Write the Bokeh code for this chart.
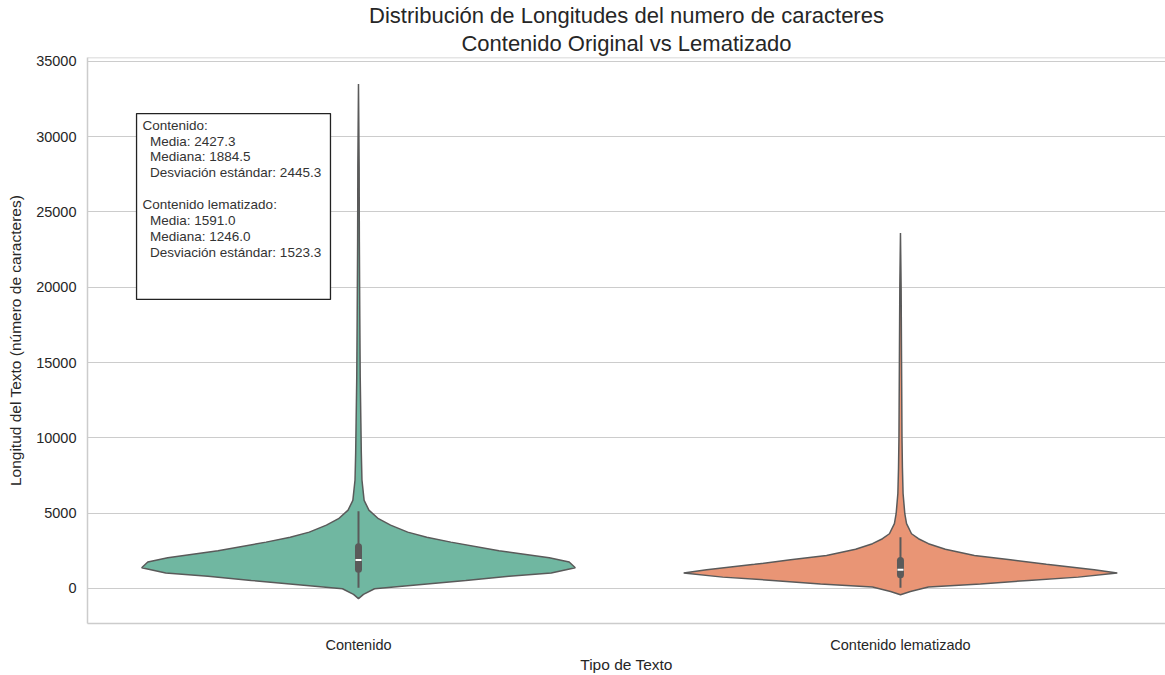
import numpy as np
from bokeh.plotting import figure
from bokeh.models import FixedTicker, Label, BoxAnnotation, Range1d, Title, Span
from bokeh.embed import file_html
from bokeh.resources import INLINE

# ---------------- data ----------------
categories = ["Contenido", "Contenido lematizado"]
fill_colors = ["#70b7a1", "#e99575"]

# violin profiles: value (characters) and relative density (1 = widest)
cont_vals = [-680, -400, -20, 250, 530, 800, 1020, 1370, 1750, 2040, 2500, 3075, 3400, 3740,
             4200, 4630, 5200, 5850, 7200, 9000, 11000, 14000, 18000, 23000, 28000, 33500]
cont_dens = [0.0, 0.023, 0.074, 0.278, 0.495, 0.694, 0.889, 1.0, 0.972, 0.880, 0.648, 0.426, 0.315, 0.227,
             0.148, 0.092, 0.048, 0.026, 0.016, 0.013, 0.011, 0.008, 0.006, 0.004, 0.003, 0.0]

lem_vals = [-420, -200, 90, 300, 530, 750, 1017, 1240, 1600, 1900, 2190, 2600, 2970, 3300,
            3630, 4300, 4960, 6300, 8000, 10000, 15000, 20000, 23600]
lem_dens = [0.0, 0.046, 0.129, 0.369, 0.590, 0.820, 1.0, 0.894, 0.673, 0.507, 0.341, 0.207, 0.129, 0.083,
            0.051, 0.028, 0.020, 0.012, 0.009, 0.007, 0.005, 0.003, 0.0]

# inner box: whisker low, Q1, median, Q3, whisker high
cont_box = [46, 1280, 1884.5, 2770, 5133]
lem_box = [45, 900, 1246.0, 1860, 3400]

# summary statistics shown in the text box
stat_means = [2427.3, 1591.0]
stat_medians = [1884.5, 1246.0]
stat_stds = [2445.3, 1523.3]

y_ticks = [0, 5000, 10000, 15000, 20000, 25000, 30000, 35000]
title_lines = ["Distribución de Longitudes del numero de caracteres", "Contenido Original vs Lematizado"]

# ---------------- figure ----------------
FONT = "Liberation Sans"
TXT = "#262626"
SPINE = "#cccccc"
y_start, y_end = -2330, 35260
x_start, x_end = -0.5, 1.489   # right edge of the axes is just past the window

p = figure(width=1165, height=675, output_backend="svg", toolbar_location=None,
           x_range=Range1d(x_start, x_end), y_range=Range1d(y_start, y_end),
           min_border_left=87, min_border_right=0, min_border_top=57, min_border_bottom=52)
p.title = None
# add second line first: it sits closest to the plot
p.add_layout(Title(text=title_lines[1], align="center", text_font=FONT, text_font_size="22px",
                   text_font_style="normal", text_color=TXT, standoff=3), "above")
p.add_layout(Title(text=title_lines[0], align="center", text_font=FONT, text_font_size="22px",
                   text_font_style="normal", text_color=TXT, standoff=0), "above")

p.background_fill_color = "white"
p.border_fill_color = "white"
p.outline_line_color = None

p.xgrid.visible = False
p.ygrid.grid_line_color = SPINE
p.ygrid.grid_line_width = 1.2
p.ygrid.ticker = FixedTicker(ticks=y_ticks)

for ax in (p.xaxis[0], p.yaxis[0]):
    ax.axis_line_color = SPINE
    ax.axis_line_width = 1.5
    ax.major_tick_line_color = None
    ax.minor_tick_line_color = None
    ax.major_tick_out = 0
    ax.major_tick_in = 0
    ax.minor_tick_out = 0
    ax.minor_tick_in = 0
    ax.major_label_text_font = FONT
    ax.major_label_text_font_size = "14.5px"
    ax.major_label_text_color = TXT
    ax.axis_label_text_font = FONT
    ax.axis_label_text_font_size = "15.5px"
    ax.axis_label_text_font_style = "normal"
    ax.axis_label_text_color = TXT

# top spine
p.add_layout(Span(location=y_end, dimension="width", line_color=SPINE, line_width=1.5))

p.xaxis.ticker = FixedTicker(ticks=list(range(len(categories))))
p.xaxis.major_label_overrides = {i: c for i, c in enumerate(categories)}
p.xaxis.axis_label = "Tipo de Texto"
p.xaxis.major_label_standoff = 13
p.xaxis.axis_label_standoff = 0

p.yaxis.ticker = FixedTicker(ticks=y_ticks)
p.yaxis.formatter.use_scientific = False
p.yaxis.axis_label = "Longitud del Texto (número de caracteres)"
p.yaxis.major_label_standoff = 11
p.yaxis.axis_label_standoff = 9

# ---------------- violins ----------------
half = 0.4
profiles = [(cont_vals, cont_dens), (lem_vals, lem_dens)]
boxes = [cont_box, lem_box]
for i, ((vals, dens), col) in enumerate(zip(profiles, fill_colors)):
    xs = [i + half * d for d in dens] + [i - half * d for d in reversed(dens)]
    ys = list(vals) + list(reversed(vals))
    p.patch(xs, ys, fill_color=col, line_color="#5a5a5a", line_width=1.5)

    lo, q1, med, q3, hi = boxes[i]
    p.segment(x0=[i], y0=[lo], x1=[i], y1=[hi], line_color="#5a5a5a", line_width=2)
    p.segment(x0=[i], y0=[q1], x1=[i], y1=[q3], line_color="#5a5a5a", line_width=7, line_cap="round")
    p.scatter(x=[i], y=[med], marker="dash", size=6, line_color="white", line_width=2)

# ---------------- stats text box ----------------
fx = lambda f: x_start + f * (x_end - x_start)
fy = lambda f: y_start + f * (y_end - y_start)
box_l, box_r, box_t, box_b = fx(0.0455), fx(0.2254), fy(0.901), fy(0.5725)
p.add_layout(BoxAnnotation(left=box_l, right=box_r, top=box_t, bottom=box_b,
                           fill_color="white", fill_alpha=1.0, line_color="#222222",
                           line_alpha=1.0, line_width=1.3))

ind = "\u00a0\u00a0"
lines = []
for i, c in enumerate(categories):
    if i > 0:
        lines.append("")
    lines.append(f"{c}:")
    lines.append(f"{ind}Media: {stat_means[i]:.1f}")
    lines.append(f"{ind}Mediana: {stat_medians[i]:.1f}")
    lines.append(f"{ind}Desviación estándar: {stat_stds[i]:.1f}")
p.add_layout(Label(x=box_l, y=box_t, x_offset=6, y_offset=-4, text="\n".join(lines),
                   text_font=FONT, text_font_size="13.5px", text_color="#333333",
                   text_baseline="top", text_align="left", text_line_height=1.065))

open("out.html", "w").write(file_html(p, INLINE))
